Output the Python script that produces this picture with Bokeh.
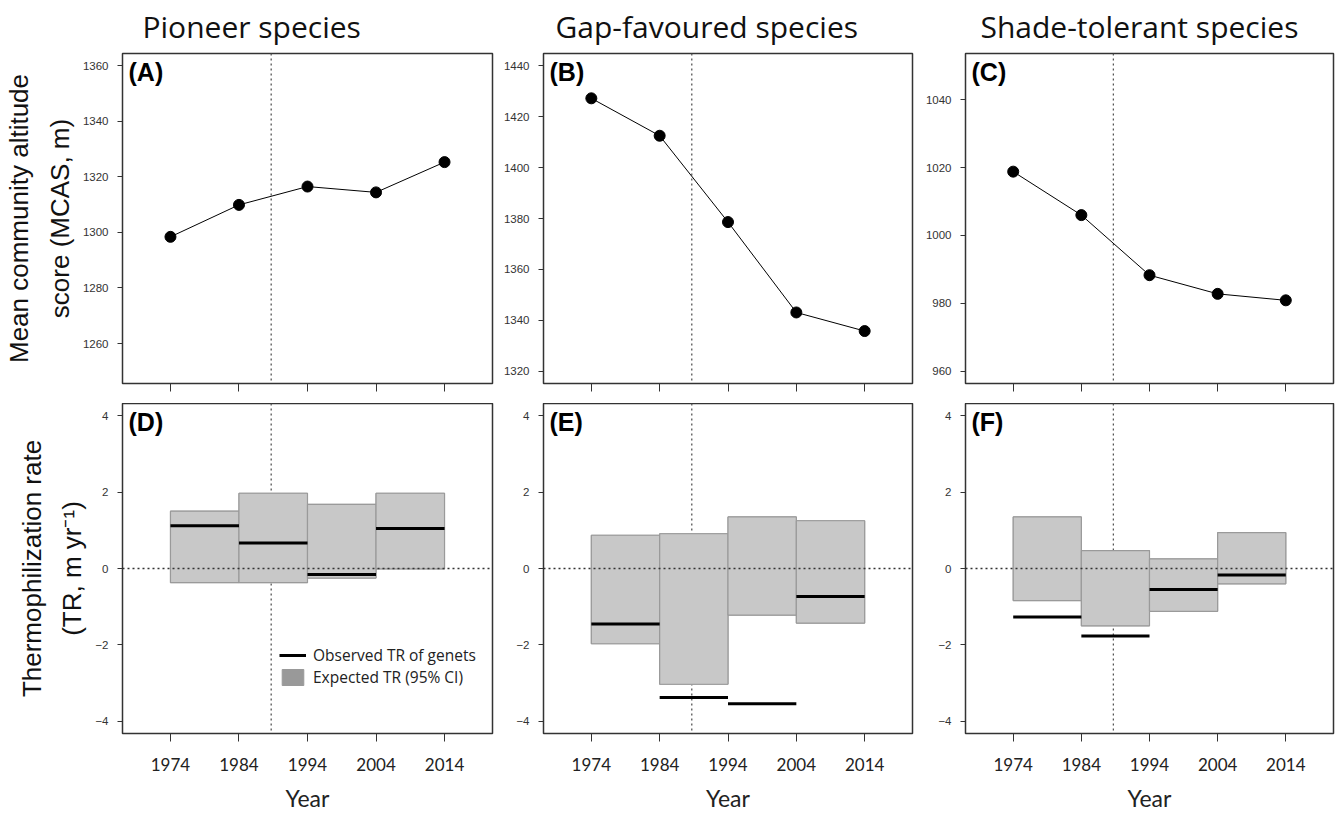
from bokeh.plotting import figure
from bokeh.layouts import column, row
from bokeh.models import (FixedTicker, Span, Label, Legend, LegendItem,
                          ColumnDataSource, Range1d, CustomLabelingPolicy)
from bokeh.embed import file_html
from bokeh.resources import INLINE

# ---------------- data ----------------
years = [1974, 1984, 1994, 2004, 2014]
interval_start = [1974, 1984, 1994, 2004]
interval_end = [1984, 1994, 2004, 2014]

group_titles = ["Pioneer species", "Gap-favoured species", "Shade-tolerant species"]
top_panel_labels = ["(A)", "(B)", "(C)"]
bottom_panel_labels = ["(D)", "(E)", "(F)"]

# Mean community altitude score (MCAS, m)
mcas_pioneer = [1298.4, 1309.9, 1316.5, 1314.4, 1325.3]
mcas_gap = [1427.2, 1412.5, 1378.6, 1343.1, 1335.8]
mcas_shade = [1018.8, 1006.0, 988.3, 982.8, 980.9]

# Thermophilization rate (TR, m/yr): observed and expected 95% CI
obs_pioneer = [1.12, 0.67, -0.16, 1.05]
ci_low_pioneer = [-0.37, -0.37, -0.25, -0.01]
ci_high_pioneer = [1.50, 1.97, 1.68, 1.97]

obs_gap = [-1.45, -3.38, -3.54, -0.73]
ci_low_gap = [-1.97, -3.03, -1.22, -1.43]
ci_high_gap = [0.87, 0.91, 1.35, 1.25]

obs_shade = [-1.27, -1.77, -0.55, -0.17]
ci_low_shade = [-0.84, -1.50, -1.12, -0.40]
ci_high_shade = [1.35, 0.47, 0.25, 0.94]

mcas_ticks = [[1260, 1280, 1300, 1320, 1340, 1360],
              [1320, 1340, 1360, 1380, 1400, 1420, 1440],
              [960, 980, 1000, 1020, 1040]]
mcas_limits = [(1250, 1360), (1320, 1440), (960, 1050)]
tr_ticks = [-4, -2, 0, 2, 4]
tr_limits = (-4, 4)
x_limits = (1969, 2019)
split_year = 1988.7

mcas_series = [mcas_pioneer, mcas_gap, mcas_shade]
obs_series = [obs_pioneer, obs_gap, obs_shade]
ci_low_series = [ci_low_pioneer, ci_low_gap, ci_low_shade]
ci_high_series = [ci_high_pioneer, ci_high_gap, ci_high_shade]

# ---------------- style ----------------
ARIAL = "Liberation Sans"
SANS = "Open Sans"
CALI = "Lato"
FRAME_W = [370, 369, 368]
BORDER_LR = [(122, 5), (46, 6), (47, 2)]
TITLE_OFFSET = [20, 12, 15]   # title start, px from the frame's left edge
FRAME_H = 330

HIDE_LABELS = CustomLabelingPolicy(code="""
for (let i = 0; i < indices.size; i++) { indices.unset(i) }
return indices
""")


def expand(lo, hi, f=0.04):
    d = (hi - lo) * f
    return lo - d, hi + d


def make_fig(col, top):
    lo, hi = mcas_limits[col] if top else tr_limits
    ylo, yhi = expand(lo, hi)
    xlo, xhi = expand(*x_limits)
    bl, br = BORDER_LR[col]
    p = figure(frame_width=FRAME_W[col], frame_height=FRAME_H,
               x_range=Range1d(xlo, xhi), y_range=Range1d(ylo, yhi),
               output_backend="svg", toolbar_location=None,
               min_border_left=bl, min_border_right=br,
               min_border_top=53 if top else 0,
               min_border_bottom=20 if top else 60)
    p.grid.visible = False
    p.outline_line_color = "#333333"
    p.outline_line_width = 1.5
    p.background_fill_color = "white"
    p.border_fill_color = "white"

    # y axis
    ya = p.yaxis[0]
    ya.ticker = FixedTicker(ticks=mcas_ticks[col] if top else tr_ticks)
    ya.axis_line_color = None
    ya.major_tick_in = 0
    ya.major_tick_out = 5
    ya.minor_tick_out = 0
    ya.minor_tick_in = 0
    ya.major_tick_line_color = "#333333"
    ya.major_label_text_font = ARIAL
    ya.major_label_text_font_size = "11.5px"
    ya.major_label_text_color = "#333333"
    ya.major_label_standoff = 9

    # x axis
    xa = p.xaxis[0]
    xa.ticker = FixedTicker(ticks=years)
    xa.axis_line_color = None
    xa.major_tick_in = 0
    xa.major_tick_out = 8
    xa.minor_tick_out = 0
    xa.minor_tick_in = 0
    xa.major_tick_line_color = "#333333"
    if top:
        xa.major_label_policy = HIDE_LABELS
        xa.major_label_text_font_size = "1px"
        xa.major_label_standoff = 0
    else:
        xa.major_label_text_font = CALI
        xa.major_label_text_font_size = "17px"
        xa.major_label_text_color = "#222222"
        xa.major_label_standoff = 16
        xa.axis_label = "Year"
        xa.axis_label_text_font = CALI
        xa.axis_label_text_font_size = "23px"
        xa.axis_label_text_font_style = "normal"
        xa.axis_label_text_color = "#222222"
        xa.axis_label_standoff = 10

    if col == 0:
        ya.axis_label = ("Mean community altitude\nscore (MCAS, m)" if top
                         else "Thermophilization rate\n(TR, m yr\u207b\u00b9)")
        ya.axis_label_text_font = ARIAL
        ya.axis_label_text_font_size = "26px"
        ya.axis_label_text_font_style = "normal"
        ya.axis_label_text_color = "#111111"
        ya.axis_label_text_line_height = 1.35
        ya.axis_label_standoff = 5

    if top:
        p.title.text = group_titles[col]
        p.title.align = "left"
        p.title.vertical_align = "top"
        p.title.offset = TITLE_OFFSET[col]
        p.title.text_font = SANS
        p.title.text_font_size = "30px"
        p.title.text_font_style = "normal"
        p.title.text_color = "#111111"
        p.title.standoff = 10

    # dotted vertical reference line (beneath the glyphs)
    p.add_layout(Span(location=split_year, dimension="height",
                      line_color="#555555", line_width=1.3,
                      line_dash="2 3", level="underlay"))

    p.add_layout(Label(x=6, y=FRAME_H - 4, x_units="screen", y_units="screen",
                       text=(top_panel_labels if top else bottom_panel_labels)[col],
                       text_font=ARIAL, text_font_style="bold",
                       text_font_size="25px", text_color="black",
                       text_baseline="top", text_align="left"))
    return p


figs_top = []
figs_bottom = []
for c in range(3):
    pt = make_fig(c, True)
    src = ColumnDataSource(dict(x=years, y=mcas_series[c]))
    pt.line("x", "y", source=src, line_color="black", line_width=1)
    pt.scatter("x", "y", source=src, size=11, marker="circle",
               fill_color="black", line_color="black")
    figs_top.append(pt)

    pb = make_fig(c, False)
    bsrc = ColumnDataSource(dict(left=interval_start, right=interval_end,
                                 bottom=ci_low_series[c], top=ci_high_series[c],
                                 obs=obs_series[c]))
    # darker copy under the CI boxes: only its legend swatch is visible
    proxy = pb.quad(left="left", right="right", bottom="bottom", top="top",
                    source=bsrc, fill_color="#999999", line_color="#999999",
                    line_width=1)
    pb.quad(left="left", right="right", bottom="bottom", top="top",
            source=bsrc, fill_color="#c8c8c8", line_color="#9a9a9a",
            line_width=1.2)
    obs_r = pb.segment(x0="left", x1="right", y0="obs", y1="obs", source=bsrc,
                       line_color="black", line_width=3)
    pb.add_layout(Span(location=0, dimension="width", line_color="#333333",
                       line_width=1.3, line_dash="2 3"))
    if c == 0:
        legend = Legend(items=[
            LegendItem(label="Observed TR of genets", renderers=[obs_r]),
            LegendItem(label="Expected TR (95% CI)", renderers=[proxy])],
            location=(157, 45), orientation="vertical",
            label_text_font=SANS, label_text_font_size="15.5px",
            label_text_color="#222222",
            glyph_width=27, glyph_height=20, label_height=20,
            label_standoff=7, spacing=0, padding=0, margin=0,
            border_line_color=None, background_fill_alpha=0)
        pb.add_layout(legend)
    figs_bottom.append(pb)

layout = column(row(*figs_top), row(*figs_bottom))
open("out.html", "w").write(file_html(layout, INLINE))
